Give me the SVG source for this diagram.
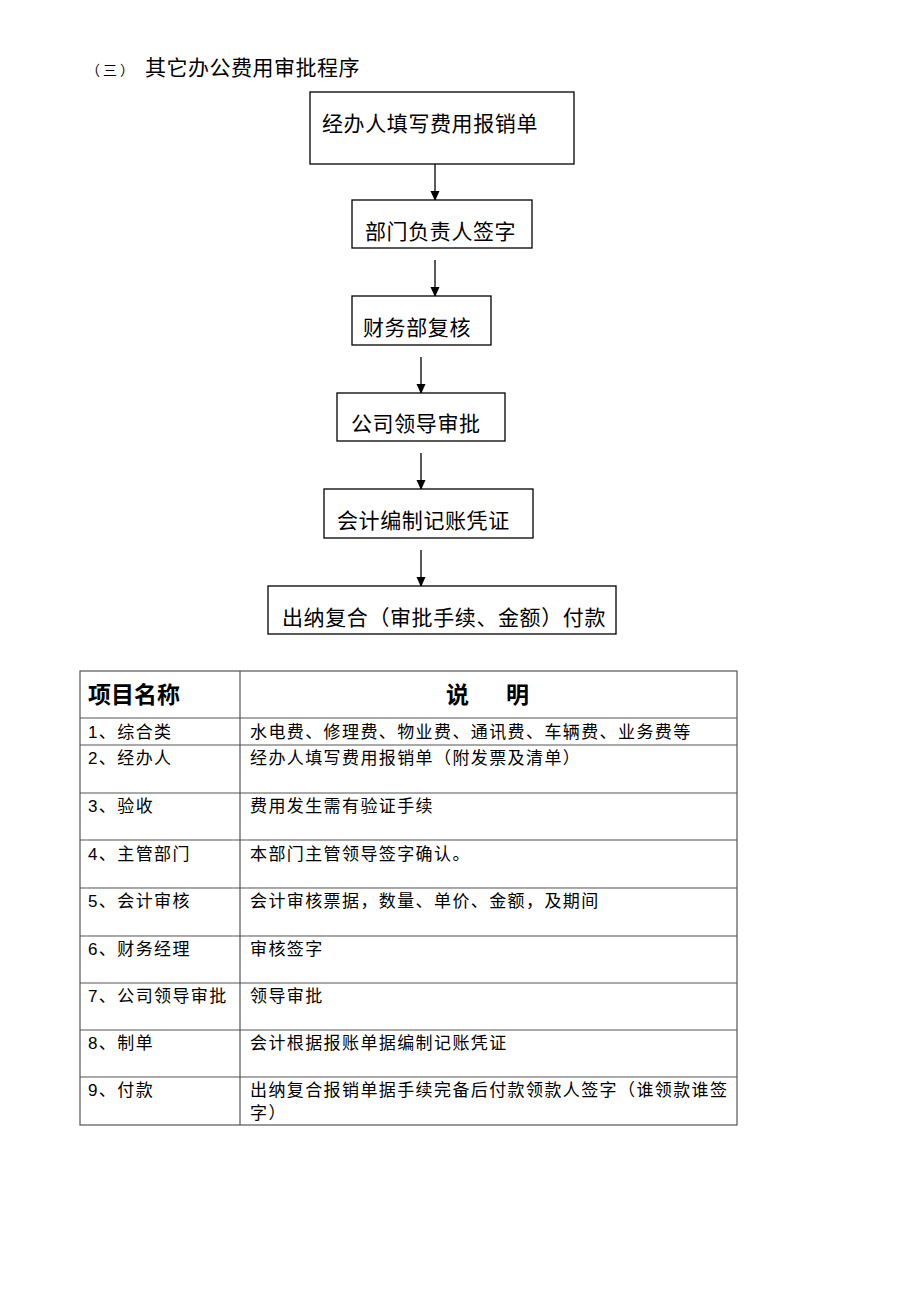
<svg xmlns="http://www.w3.org/2000/svg" width="920" height="1302" viewBox="0 0 920 1302">
<style>
  text { font-family: "Liberation Sans", "Noto Sans CJK SC", sans-serif; fill: #000; }
  .box { fill: #fff; stroke: #000; stroke-width: 1.3; }
  .flow { font-size: 21px; letter-spacing: 0.6px; }
  .title { font-size: 21px; letter-spacing: 0.5px; }
  .small { font-size: 14px; letter-spacing: 3px; }
  .conn { stroke: #000; stroke-width: 1.3; fill: none; }
  .grid { stroke: #555; stroke-width: 1.2; fill: none; }
  .cell { font-size: 17px; letter-spacing: 1.4px; }
  .head { font-size: 23px; font-weight: bold; }
</style>
<defs>
  <marker id="arr" markerWidth="10" markerHeight="12" refX="9" refY="5" orient="auto" markerUnits="userSpaceOnUse">
    <path d="M0,0.5 L10,5 L0,9.5 Z" fill="#000"/>
  </marker>
</defs>
<rect width="920" height="1302" fill="#fff"/>

<g id="title">
  <text class="small" x="86" y="75">（三）</text>
  <text class="title" x="145" y="75">其它办公费用审批程序</text>
</g>

<g id="connectors">
  <line class="conn" x1="435" y1="164" x2="435" y2="200" marker-end="url(#arr)"/>
  <line class="conn" x1="435" y1="260" x2="435" y2="296" marker-end="url(#arr)"/>
  <line class="conn" x1="421" y1="357" x2="421" y2="393" marker-end="url(#arr)"/>
  <line class="conn" x1="421" y1="453" x2="421" y2="489" marker-end="url(#arr)"/>
  <line class="conn" x1="421" y1="550" x2="421" y2="586" marker-end="url(#arr)"/>
</g>

<g id="node1">
  <rect class="box" x="310" y="92" width="264" height="72"/>
  <text class="flow" x="322" y="131">经办人填写费用报销单</text>
</g>
<g id="node2">
  <rect class="box" x="352" y="200" width="180" height="48"/>
  <text class="flow" x="365" y="239">部门负责人签字</text>
</g>
<g id="node3">
  <rect class="box" x="352" y="296" width="139" height="49"/>
  <text class="flow" x="363" y="335">财务部复核</text>
</g>
<g id="node4">
  <rect class="box" x="337" y="393" width="168" height="48"/>
  <text class="flow" x="351" y="431">公司领导审批</text>
</g>
<g id="node5">
  <rect class="box" x="324" y="489" width="209" height="49"/>
  <text class="flow" x="337" y="528">会计编制记账凭证</text>
</g>
<g id="node6">
  <rect class="box" x="268" y="586" width="348" height="48"/>
  <text class="flow" x="282" y="625">出纳复合（审批手续、金额）付款</text>
</g>

<g id="table">
  <rect class="grid" x="80" y="671" width="657" height="454"/>
  <line class="grid" x1="240" y1="671" x2="240" y2="1125"/>
  <line class="grid" x1="80" y1="718" x2="737" y2="718"/>
  <line class="grid" x1="80" y1="745" x2="737" y2="745"/>
  <line class="grid" x1="80" y1="793" x2="737" y2="793"/>
  <line class="grid" x1="80" y1="840" x2="737" y2="840"/>
  <line class="grid" x1="80" y1="888" x2="737" y2="888"/>
  <line class="grid" x1="80" y1="936" x2="737" y2="936"/>
  <line class="grid" x1="80" y1="983" x2="737" y2="983"/>
  <line class="grid" x1="80" y1="1030" x2="737" y2="1030"/>
  <line class="grid" x1="80" y1="1077" x2="737" y2="1077"/>

  <text class="head" x="88" y="703">项目名称</text>
  <text class="head" y="703"><tspan x="446">说</tspan><tspan x="506">明</tspan></text>

  <text class="cell" x="88" y="738">1、综合类</text>
  <text class="cell" x="250" y="738">水电费、修理费、物业费、通讯费、车辆费、业务费等</text>
  <text class="cell" x="88" y="764">2、经办人</text>
  <text class="cell" x="250" y="764">经办人填写费用报销单（附发票及清单）</text>
  <text class="cell" x="88" y="812">3、验收</text>
  <text class="cell" x="250" y="812">费用发生需有验证手续</text>
  <text class="cell" x="88" y="860">4、主管部门</text>
  <text class="cell" x="250" y="860">本部门主管领导签字确认。</text>
  <text class="cell" x="88" y="907">5、会计审核</text>
  <text class="cell" x="250" y="907">会计审核票据，数量、单价、金额，及期间</text>
  <text class="cell" x="88" y="955">6、财务经理</text>
  <text class="cell" x="250" y="955">审核签字</text>
  <text class="cell" x="88" y="1002">7、公司领导审批</text>
  <text class="cell" x="250" y="1002">领导审批</text>
  <text class="cell" x="88" y="1049">8、制单</text>
  <text class="cell" x="250" y="1049">会计根据报账单据编制记账凭证</text>
  <text class="cell" x="88" y="1096">9、付款</text>
  <text class="cell" x="250" y="1096">出纳复合报销单据手续完备后付款领款人签字（谁领款谁签</text>
  <text class="cell" x="250" y="1119">字）</text>
</g>
</svg>
